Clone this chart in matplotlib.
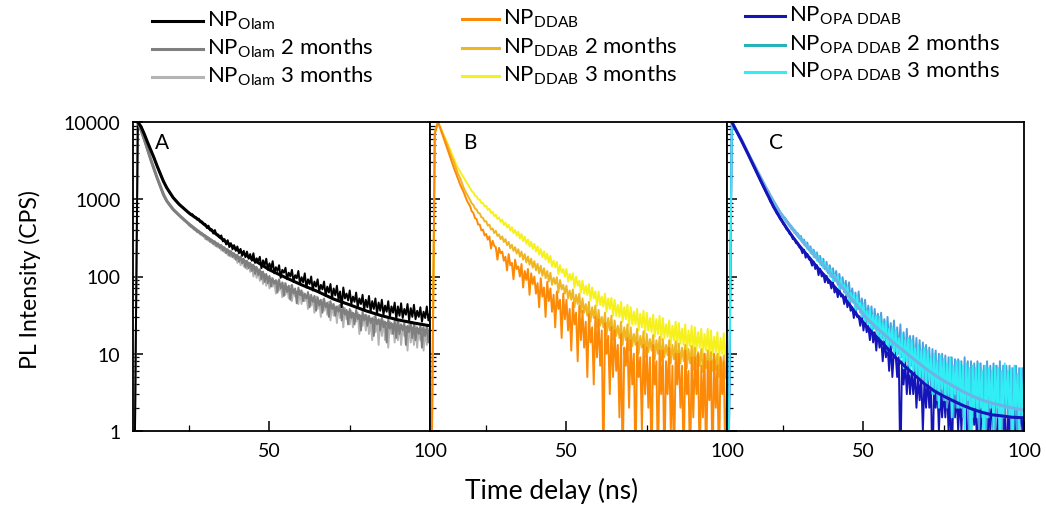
import matplotlib
matplotlib.use("Agg")
import matplotlib.pyplot as plt
from matplotlib.lines import Line2D
from matplotlib import ticker, font_manager

# ---------------------------------------------------------------- data
# measurement grid (ns): 1 ns steps up to 19 ns, 0.5 ns steps from 20 ns
time_ns = list(range(8, 20)) + [20 + 0.5 * k for k in range(161)]

# panel A: NP_Olam, fresh / 2 months / 3 months (counts per second)
olam_fresh = [
    0.3, 9900, 8800, 7050, 5500, 4350, 3480, 2710, 2150, 1700, 1420, 1195,
    1060, 985, 935, 885, 855, 810, 785, 745, 725, 685,
    670, 625, 640, 585, 590, 545, 560, 505, 515, 470,
    480, 425, 455, 395, 410, 360, 400, 345, 350, 318,
    340, 285, 305, 260, 295, 240, 270, 225, 255, 215,
    245, 200, 228, 185, 215, 178, 210, 170, 195, 160,
    200, 150, 172, 158, 180, 128, 162, 140, 170, 122,
    148, 125, 158, 110, 132, 118, 140, 96, 122, 112,
    130, 92, 112, 100, 122, 85, 104, 95, 118, 80,
    98, 84, 110, 72, 92, 80, 100, 66, 86, 74,
    92, 64, 78, 68, 86, 56, 74, 62, 80, 52,
    70, 57, 76, 50, 64, 40, 72, 52, 60, 49,
    66, 44, 55, 47, 62, 40, 52, 44, 58, 37,
    50, 40, 56, 35, 48, 38, 52, 33, 46, 36,
    50, 32, 42, 35, 48, 30, 41, 34, 46, 28,
    41, 31, 45, 29, 38, 32, 44, 27, 39, 30,
    43, 28, 36, 30, 40, 26, 35, 29, 41, 27,
    34]
olam_2m = [
    0.3, 9800, 7800, 6000, 4450, 3300, 2480, 1900, 1470, 1150, 950, 835,
    745, 700, 680, 640, 620, 580, 565, 530, 520, 490,
    480, 440, 445, 405, 410, 375, 388, 350, 362, 330,
    340, 300, 318, 280, 300, 262, 285, 245, 268, 232,
    255, 215, 238, 200, 225, 185, 214, 178, 200, 165,
    192, 155, 182, 148, 170, 130, 160, 128, 150, 118,
    142, 108, 133, 104, 124, 92, 116, 85, 108, 82,
    102, 74, 95, 80, 90, 62, 92, 70, 84, 56,
    82, 63, 76, 50, 78, 60, 70, 45, 72, 58,
    66, 48, 60, 52, 63, 40, 58, 47, 56, 36,
    54, 42, 50, 34, 52, 40, 46, 30, 48, 38,
    44, 31, 41, 35, 43, 27, 40, 32, 37, 24,
    38, 29, 34, 24, 37, 28, 32, 20, 35, 27,
    32, 23, 31, 25, 29, 17, 31, 24, 28, 20,
    29, 22, 26, 14, 28, 21, 25, 18, 27, 16,
    26, 18, 24, 20, 25, 13, 23, 19, 25, 16,
    24, 15, 22, 18, 23, 12, 22, 17, 23, 14,
    20]
olam_3m = [
    0.3, 9600, 7600, 5800, 4300, 3200, 2420, 1850, 1430, 1120, 930, 815,
    725, 690, 660, 630, 600, 575, 550, 530, 510, 488,
    455, 462, 420, 425, 390, 395, 365, 370, 338, 345,
    305, 322, 290, 300, 270, 285, 250, 270, 238, 255,
    218, 240, 205, 225, 190, 215, 180, 202, 170, 190,
    150, 178, 140, 168, 135, 160, 124, 150, 115, 140,
    100, 130, 96, 122, 88, 114, 80, 106, 76, 98,
    70, 96, 74, 84, 60, 88, 66, 78, 54, 82,
    58, 74, 52, 76, 48, 68, 55, 64, 44, 66,
    44, 62, 48, 56, 38, 58, 42, 52, 34, 55,
    38, 49, 30, 50, 36, 44, 32, 47, 27, 44,
    31, 41, 25, 42, 29, 37, 22, 39, 28, 35,
    24, 36, 22, 33, 26, 34, 18, 31, 23, 32,
    20, 31, 18, 28, 15, 30, 19, 27, 13, 28,
    17, 27, 15, 25, 12, 26, 18, 24, 14, 26,
    15, 25, 13, 23, 17, 22, 11, 24, 14, 21,
    13, 23, 12, 21, 15, 22, 11, 20, 13, 21,
    19]

# panel B: NP_DDAB
ddab_fresh = [
    0.3, 7000, 10000, 7600, 5750, 4370, 3300, 2500, 1950, 1510, 1230, 960,
    810, 700, 665, 570, 555, 470, 470, 395, 405, 340,
    355, 300, 330, 230, 290, 250, 240, 165, 235, 200,
    210, 160, 180, 120, 195, 140, 150, 92, 165, 125,
    135, 100, 145, 72, 118, 90, 125, 58, 110, 80,
    100, 60, 82, 40, 95, 55, 72, 30, 85, 48,
    70, 35, 58, 22, 64, 38, 50, 16, 60, 28,
    50, 20, 38, 11, 46, 24, 34, 8, 42, 15,
    36, 12, 26, 5, 33, 14, 22, 4, 30, 9,
    28, 7, 20, 0.3, 25, 10, 17, 3, 22, 5,
    20, 6, 13, 1.5, 18, 0.3, 12, 7, 16, 2,
    15, 4, 10, 0.3, 14, 5, 9, 1, 13, 3,
    12, 2, 9, 0.3, 13, 4, 8, 0.3, 11, 3,
    11, 0.3, 8, 3, 12, 1, 7, 0.3, 10, 4,
    10, 2, 7, 0.3, 11, 3, 6, 0.3, 9, 1.5,
    9, 3, 10, 0.3, 7, 1.5, 10, 0.3, 8, 2.5,
    8, 0.3, 10, 2, 7, 0.3, 9, 3, 8, 0.3,
    5]
ddab_2m = [
    0.3, 7500, 10000, 8000, 6250, 4950, 3750, 3000, 2250, 1830, 1400, 1160,
    975, 880, 850, 760, 735, 665, 655, 585, 575, 515,
    520, 455, 470, 405, 420, 365, 390, 335, 350, 305,
    330, 280, 305, 255, 280, 232, 258, 215, 240, 198,
    225, 180, 210, 165, 195, 152, 182, 142, 170, 130,
    158, 120, 146, 110, 138, 102, 128, 95, 118, 86,
    112, 78, 96, 80, 98, 62, 90, 68, 78, 60,
    76, 52, 66, 50, 68, 40, 58, 44, 60, 34,
    52, 34, 44, 31, 47, 26, 40, 29, 42, 22,
    37, 23, 30, 22, 34, 17, 29, 20, 31, 15,
    27, 17, 23, 16, 26, 13, 22, 15, 24, 11,
    22, 12.5, 18, 13, 21, 10, 17, 12, 19.5, 9,
    18, 10.5, 15.5, 11, 17.5, 8.5, 15, 10, 16.5, 8,
    15.5, 9, 13, 9.5, 15, 7.5, 13, 8.5, 14.5, 7,
    13.5, 7.5, 12, 8, 13, 6.5, 11.5, 7.5, 12.5, 6.2,
    12, 6.8, 10.5, 7, 11.5, 5.8, 10, 6.5, 11, 5.5,
    10.5, 6, 9.5, 6.2, 10, 5, 9, 5.8, 9.5, 4.8,
    8]
ddab_3m = [
    0.3, 7200, 10000, 7940, 6460, 5250, 4170, 3310, 2630, 2240, 1905, 1620,
    1400, 1270, 1230, 1110, 1100, 990, 990, 895, 895, 810,
    825, 730, 755, 665, 690, 605, 630, 555, 580, 510,
    545, 465, 500, 430, 465, 395, 435, 365, 400, 338,
    380, 310, 355, 288, 328, 265, 302, 245, 282, 228,
    265, 210, 245, 192, 226, 178, 212, 165, 198, 152,
    185, 135, 160, 132, 155, 108, 140, 112, 125, 100,
    125, 86, 108, 90, 110, 72, 100, 76, 88, 62,
    88, 60, 76, 58, 80, 49, 72, 52, 64, 42,
    64, 43, 55, 41, 60, 35, 52, 38, 53, 31,
    50, 31, 43, 30, 47, 26, 40, 28, 43, 23,
    40, 24, 35, 24, 38, 20, 33, 22, 36, 18.5,
    34, 20, 29, 19, 32, 16.5, 28, 18, 31, 15,
    29, 16, 24, 16.5, 27, 13, 23, 15, 26, 12.5,
    25, 13.5, 21, 13, 24, 10.5, 20, 12.5, 23, 10,
    22, 11, 19, 12, 21, 9.5, 18, 11, 21, 8.5,
    20, 9.5, 16.5, 10.5, 19, 8, 16, 10, 18.5, 7.5,
    16]

# panel C: NP_OPA DDAB
opa_fresh = [
    0.3, 9800, 8300, 6900, 5700, 4700, 3850, 3150, 2580, 2120, 1720, 1400,
    1160, 1070, 930, 880, 780, 740, 655, 630, 560, 535,
    480, 462, 410, 400, 355, 348, 305, 305, 270, 268,
    240, 228, 200, 222, 175, 196, 168, 160, 138, 156,
    125, 140, 104, 126, 100, 108, 84, 102, 82, 86,
    70, 84, 62, 70, 54, 68, 55, 58, 44, 56,
    40, 50, 36, 40, 29, 39, 30, 31, 23, 32,
    20, 28, 19, 23, 15, 24, 14, 19, 11, 20,
    12, 16, 8, 15, 9, 13, 6, 14, 5, 11,
    10, 5, 9, 0.3, 8, 4, 8, 3, 7, 3,
    6, 3, 6, 2, 5, 2.5, 5, 1, 4.5, 2,
    5, 2, 4, 0.3, 4, 2, 4, 1, 3.5, 1.5,
    3.5, 1.5, 4, 1, 3, 0.3, 3.5, 1.5, 3, 1,
    3, 1, 3.5, 1.5, 2.5, 0.3, 3, 1, 2.5, 1.2,
    2.5, 0.3, 3, 1, 2.5, 1, 2, 0.3, 2.5, 1,
    2.5, 1, 2, 0.3, 2, 1, 2.5, 1, 2, 0.3,
    2, 1, 2.5, 1, 2, 0.3, 2, 1, 2, 1,
    1.5]
opa_2m = [
    0.3, 10000, 8350, 6950, 5850, 4800, 3950, 3200, 2700, 2200, 1850, 1560,
    1300, 1250, 1070, 1040, 910, 890, 780, 760, 665, 650,
    575, 580, 505, 510, 445, 455, 395, 405, 350, 365,
    310, 335, 275, 300, 245, 275, 218, 245, 195, 222,
    175, 205, 155, 185, 138, 170, 124, 155, 110, 140,
    98, 128, 88, 118, 78, 108, 70, 98, 62, 88,
    55, 84, 48, 70, 46, 62, 38, 64, 34, 52,
    30, 50, 26, 42, 25, 41, 21, 38, 20, 33,
    18, 34, 16, 28, 15, 30, 13, 25, 12, 27,
    11, 22, 10, 24, 9, 19, 8, 21, 7, 17,
    7, 17, 6, 16, 5, 15, 4.5, 14, 4, 13,
    4, 12, 3.5, 11.5, 3, 11, 2.5, 10, 3, 10,
    2.5, 9.5, 2, 9, 2.5, 9, 1.5, 8.5, 2, 8.5,
    2, 8, 1.5, 9, 2, 8, 0.3, 8, 1.5, 7.5,
    2, 8, 1, 7.5, 1.5, 7, 0.3, 8, 1.5, 7,
    2, 7.5, 1, 7, 1.5, 8, 0.3, 7, 1.5, 7,
    1.5, 7, 1, 6.5, 2, 7, 0.3, 6.5, 1.5, 6.5,
    2]
opa_3m = [
    0.3, 10000, 8400, 7000, 5950, 4850, 4050, 3250, 2800, 2250, 1950, 1550,
    1350, 1180, 1120, 990, 955, 840, 815, 715, 695, 610,
    610, 535, 550, 470, 480, 410, 430, 365, 385, 325,
    345, 290, 310, 255, 280, 225, 250, 200, 225, 178,
    205, 160, 185, 142, 168, 128, 152, 116, 138, 100,
    124, 88, 106, 86, 102, 68, 92, 70, 78, 58,
    74, 46, 62, 46, 60, 35, 55, 38, 46, 30,
    44, 26, 36, 24, 38, 19, 32, 21, 31, 16,
    30, 14, 25, 15, 26, 11, 21, 13, 22, 9.5,
    20, 9.5, 16, 8.5, 18, 6.5, 15, 8, 16, 5.5,
    15, 6, 12, 5.5, 13, 4.5, 11, 5, 12, 4,
    11, 4.5, 9, 3, 10, 3.5, 8, 2, 9.5, 3.5,
    8.5, 2.5, 7.5, 3, 9, 1.5, 7, 3, 8, 2,
    8, 2, 7, 1, 7.5, 2.5, 6.5, 0.3, 7, 2,
    6.5, 1.5, 7.5, 2, 6, 0.3, 7, 1.5, 6.5, 2,
    6, 1, 7, 2, 6.5, 0.3, 6, 1.5, 7.5, 2,
    6, 1.5, 6.5, 0.3, 7, 2, 5.5, 1, 6.5, 1.5,
    6]

# decay fits
fit_time_a = [9, 10, 11, 12, 13, 14, 15, 16, 17, 18, 20, 22, 25, 28, 32,
              36, 40, 45, 50, 55, 60, 65, 70, 75, 80, 85, 90, 95, 100]
olam_fit_fresh = [10000, 8700, 7000, 5500, 4370, 3470, 2700, 2140, 1700, 1410,
                  1050, 850, 660, 540, 395, 290, 222, 165, 122, 97, 78, 64,
                  51, 43, 36, 31, 27.5, 25, 23]
olam_fit_2m = [10000, 7900, 6000, 4470, 3300, 2500, 1900, 1480, 1150, 955,
               740, 615, 475, 380, 292, 229, 180, 135, 92, 72, 58, 47.5,
               39.5, 33.5, 29, 25.5, 22.8, 21, 19.5]

fit_time_c = [9, 10, 12, 14, 16, 18, 20, 22, 24, 26, 28, 30, 33, 36, 39, 42,
              45, 48, 51, 54, 57, 60, 63, 66, 69, 72, 75, 78, 81, 84, 87, 90,
              93, 96, 100]
opa_fit_fresh = [10000, 8300, 5750, 3890, 2600, 1740, 1175, 800, 575, 427, 324,
                 251, 178, 126, 91, 66, 47, 31.6, 22.4, 16.6, 12.3, 8.9, 6.8,
                 5.25, 4.07, 3.31, 2.82, 2.45, 2.14, 1.91, 1.74, 1.62, 1.57,
                 1.51, 1.48]
opa_fit_3m = [10000, 8320, 5890, 3980, 2750, 1905, 1320, 933, 676, 525, 407,
              324, 229, 166, 120, 85, 60, 41.7, 28.8, 21.9, 17.0, 13.2, 10.5,
              8.3, 6.6, 5.37, 4.47, 3.80, 3.24, 2.82, 2.51, 2.29, 2.14, 2.0,
              1.86]

y_ticks = [1, 10, 100, 1000, 10000]
y_tick_labels = ["1", "10", "100", "1000", "10000"]
x_ticks = [50, 100]

for series in (olam_fresh, olam_2m, olam_3m, ddab_fresh, ddab_2m, ddab_3m,
               opa_fresh, opa_2m, opa_3m):
    assert len(series) == len(time_ns), len(series)

# ---------------------------------------------------------------- style
installed = {f.name for f in font_manager.fontManager.ttflist}
narrow = "Liberation Sans Narrow" if "Liberation Sans Narrow" in installed else "Lato"

plt.rcParams["font.family"] = ["Lato", "DejaVu Sans"]
plt.rcParams["mathtext.fontset"] = "custom"
plt.rcParams["mathtext.rm"] = narrow
plt.rcParams["mathtext.it"] = narrow

W, H = 1046, 506
fig = plt.figure(figsize=(W / 100, H / 100), dpi=100)

left_px = [133, 430, 727]
top_px, bottom_px, width_px = 123, 432, 297
axes = []
for lp in left_px:
    ax = fig.add_axes([lp / W, 1 - bottom_px / H, width_px / W, (bottom_px - top_px) / H])
    axes.append(ax)

c_black, c_grey, c_lgrey = "#000000", "#7f7f7f", "#b4b4b4"
c_orange, c_gold, c_yellow = "#fd8a06", "#f0b622", "#f6f01c"
c_blue, c_steel, c_cyan = "#1414b8", "#4e9fe0", "#30eef4"
c_teal_key = "#26b2b8"
c_cyan_fit = "#6fb3e6"

lw_data, lw_fit = 1.4, 2.2

axA, axB, axC = axes
axA.plot(time_ns, olam_3m, color=c_lgrey, lw=lw_data)
axA.plot(time_ns, olam_2m, color=c_grey, lw=lw_data)
axA.plot(time_ns, olam_fresh, color=c_black, lw=lw_data)
axA.plot(fit_time_a, olam_fit_2m, color=c_grey, lw=lw_fit)
axA.plot(fit_time_a, olam_fit_fresh, color=c_black, lw=lw_fit)

axB.plot(time_ns, ddab_3m, color=c_yellow, lw=lw_data)
axB.plot(time_ns, ddab_2m, color=c_gold, lw=lw_data)
axB.plot(time_ns, ddab_fresh, color=c_orange, lw=lw_data)

axC.plot(time_ns, opa_fresh, color=c_blue, lw=lw_data)
axC.plot(time_ns, opa_2m, color=c_steel, lw=lw_data)
axC.plot(time_ns, opa_3m, color=c_cyan, lw=lw_data)
axC.plot(fit_time_c, opa_fit_3m, color=c_cyan_fit, lw=lw_fit)
axC.plot(fit_time_c, opa_fit_fresh, color=c_blue, lw=lw_fit)

for i, (ax, letter, lx) in enumerate(zip(axes, "ABC", [0.075, 0.11, 0.14])):
    ax.set_yscale("log")
    ax.set_ylim(1, 10000)
    ax.set_xlim(7.5, 100)
    ax.set_xticks(x_ticks)
    ax.set_xticklabels([str(v) for v in x_ticks])
    ax.set_xticks([25, 75], minor=True)
    ax.set_yticks(y_ticks)
    ax.yaxis.set_minor_locator(ticker.LogLocator(base=10, subs=range(2, 10), numticks=20))
    ax.yaxis.set_minor_formatter(ticker.NullFormatter())
    if i == 0:
        ax.set_yticklabels(y_tick_labels)
    else:
        ax.tick_params(axis="y", labelleft=False)
    ax.tick_params(axis="both", which="both", direction="in", top=False, right=False)
    ax.tick_params(which="major", length=7, width=1.1)
    ax.tick_params(which="minor", length=4, width=0.9)
    ax.tick_params(axis="x", pad=8, labelsize=14)
    ax.tick_params(axis="y", pad=9, labelsize=14)
    for s in ax.spines.values():
        s.set_linewidth(1.3)
    ax.text(lx, 0.935, letter, transform=ax.transAxes, fontsize=15, va="center", ha="left")

fig.text(30 / W, 1 - 280 / H, "PL Intensity (CPS)", rotation=90, ha="center", va="center", fontsize=16.5)
fig.text(552 / W, 1 - 491 / H, "Time delay (ns)", ha="center", va="center", fontsize=19)

# ---------------------------------------------------------------- key
key_columns = [
    (152, 207, [27, 55, 83],
     [r"NP$_{\mathrm{Olam}}$", r"NP$_{\mathrm{Olam}}$ 2 months", r"NP$_{\mathrm{Olam}}$ 3 months"],
     [c_black, c_grey, c_lgrey]),
    (462, 503, [25, 54, 82],
     [r"NP$_{\mathrm{DDAB}}$", r"NP$_{\mathrm{DDAB}}$ 2 months", r"NP$_{\mathrm{DDAB}}$ 3 months"],
     [c_orange, c_gold, c_yellow]),
    (745, 789, [22, 51, 78],
     [r"NP$_{\mathrm{OPA\ DDAB}}$", r"NP$_{\mathrm{OPA\ DDAB}}$ 2 months", r"NP$_{\mathrm{OPA\ DDAB}}$ 3 months"],
     [c_blue, c_teal_key, c_cyan]),
]
for x0, xt, baselines, labels, colors in key_columns:
    for yb, lab, col in zip(baselines, labels, colors):
        yl = 1 - (yb - 5) / H
        fig.add_artist(Line2D([x0 / W, (xt - 4) / W], [yl, yl], transform=fig.transFigure,
                              color=col, lw=2.2))
        fig.text(xt / W, 1 - yb / H, lab, ha="left", va="baseline", fontsize=16, family=narrow)

fig.savefig("out.png", dpi=100)
